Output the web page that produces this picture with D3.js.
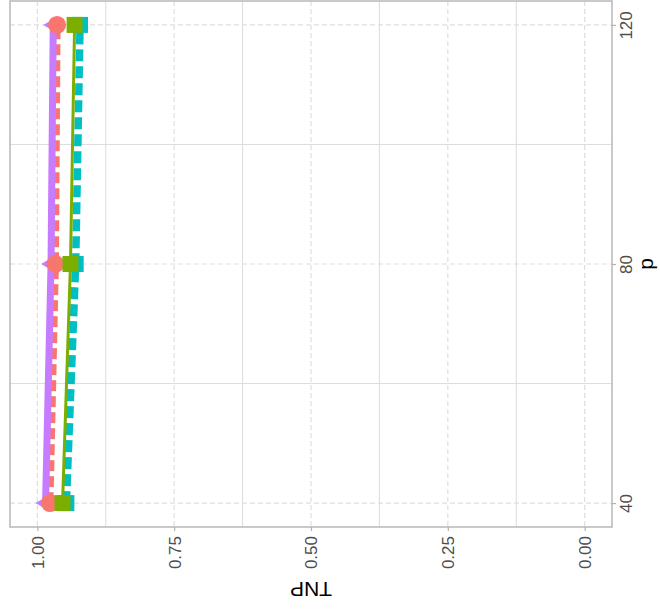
<!DOCTYPE html>
<html><head><meta charset="utf-8">
<script src="https://cdn.jsdelivr.net/npm/d3@7"></script>
<style>html,body{margin:0;padding:0;background:#fff}</style>
</head><body><svg id="chart" width="660" height="612"></svg>
<script>
// ---- data ----
const pValues = [40, 80, 120];
const seriesNames = ["method 1", "method 2", "method 3", "method 4"];
const tnpRed = [0.977, 0.967, 0.964];
const tnpGreen = [0.954, 0.9395, 0.932];
const tnpCyan = [0.947, 0.930, 0.922];
const tnpPurple = [0.985, 0.975, 0.971];
const tnpTicks = [0, 0.25, 0.5, 0.75, 1];
const tnpMinor = [0.125, 0.375, 0.625, 0.875];
const pTicks = [40, 80, 120];
const pMinor = [60, 100];

const colors = ["#F8766D", "#7CAE00", "#00BFC4", "#C77CFF"];
const seriesValues = [tnpRed, tnpGreen, tnpCyan, tnpPurple];
const dashes = ["11,5", null, "12,5", null];
const widths = [7, 3, 7.5, 7];
const shapes = [d3.symbolCircle, d3.symbolSquare, d3.symbolSquare, d3.symbolTriangle];
const sizes = [255, 256, 256, 130];

const series = seriesNames.map((n, i) => ({
  name: n, color: colors[i], dash: dashes[i], width: widths[i], shape: shapes[i], size: sizes[i],
  values: pValues.map((p, j) => ({p: p, tnp: seriesValues[i][j]}))
}));

// ---- layout ----
const svg = d3.select("#chart");
svg.append("rect").attr("width", 660).attr("height", 612).attr("fill", "#fff");
const pLeft = 10, pRight = 612, pTop = 1, pBottom = 527;
const x = d3.scaleLinear().domain([1.05, -0.05]).range([pLeft, pRight]);
const y = d3.scaleLinear().domain([36, 124]).range([pBottom, pTop]);

const grid = svg.append("g");
grid.selectAll(".vmin").data(tnpMinor).join("line")
  .attr("x1", d => x(d)).attr("x2", d => x(d)).attr("y1", pTop).attr("y2", pBottom)
  .attr("stroke", "#dcdcdc").attr("stroke-width", 1);
grid.selectAll(".hmin").data(pMinor).join("line")
  .attr("y1", d => y(d)).attr("y2", d => y(d)).attr("x1", pLeft).attr("x2", pRight)
  .attr("stroke", "#dcdcdc").attr("stroke-width", 1);
grid.selectAll(".vmaj").data(tnpTicks).join("line")
  .attr("x1", d => x(d)).attr("x2", d => x(d)).attr("y1", pTop).attr("y2", pBottom)
  .attr("stroke", "#dedede").attr("stroke-width", 1.2).attr("stroke-dasharray", "5,3");
grid.selectAll(".hmaj").data(pTicks).join("line")
  .attr("y1", d => y(d)).attr("y2", d => y(d)).attr("x1", pLeft).attr("x2", pRight)
  .attr("stroke", "#dedede").attr("stroke-width", 1.2).attr("stroke-dasharray", "5,3");

// lines
const line = d3.line().x(d => x(d.tnp)).y(d => y(d.p));
const lineOrder = [0, 3, 2, 1];
svg.append("g").selectAll("path").data(lineOrder.map(i => series[i])).join("path")
  .attr("d", d => line(d.values))
  .attr("fill", "none")
  .attr("stroke", d => d.color)
  .attr("stroke-width", d => d.width)
  .attr("stroke-dasharray", d => d.dash);

// points
const pointOrder = [3, 0, 2, 1];
const pg = svg.append("g");
pointOrder.forEach(i => {
  const s = series[i];
  pg.append("g").selectAll("path").data(s.values).join("path")
    .attr("transform", d => `translate(${x(d.tnp)},${y(d.p)}) rotate(-90)`)
    .attr("d", d3.symbol().type(s.shape).size(s.size))
    .attr("fill", s.color);
});

// panel border
svg.append("rect").attr("x", pLeft).attr("y", pTop).attr("width", pRight - pLeft).attr("height", pBottom - pTop)
  .attr("fill", "none").attr("stroke", "#b3b3b3").attr("stroke-width", 1.4);

// axes
const font = "'Liberation Sans', Arial, sans-serif";
const xAxis = svg.append("g").attr("transform", `translate(0,${pBottom})`)
  .call(d3.axisBottom(x).tickValues(tnpTicks).tickFormat(d3.format(".2f")).tickSize(4).tickSizeOuter(0));
xAxis.select(".domain").remove();
xAxis.selectAll(".tick line").attr("stroke", "#b3b3b3").attr("stroke-width", 1.2);
xAxis.selectAll(".tick text")
  .attr("x", -9).attr("y", 0).attr("dy", "0.35em")
  .attr("transform", "rotate(-90)")
  .style("text-anchor", "end")
  .attr("fill", "#4d4d4d").style("font-family", font).style("font-size", "17px");

const yAxis = svg.append("g").attr("transform", `translate(${pRight},0)`)
  .call(d3.axisRight(y).tickValues(pTicks).tickSize(4).tickSizeOuter(0));
yAxis.select(".domain").remove();
yAxis.selectAll(".tick line").attr("stroke", "#b3b3b3").attr("stroke-width", 1.2);
yAxis.selectAll(".tick text")
  .attr("x", 0).attr("y", 20).attr("dy", "0")
  .attr("transform", "rotate(-90)")
  .style("text-anchor", "middle")
  .attr("fill", "#4d4d4d").style("font-family", font).style("font-size", "17px");

// titles
svg.append("text").attr("transform", `translate(${(pLeft + pRight) / 2},582) rotate(180)`)
  .attr("text-anchor", "middle").style("font-family", font).style("font-size", "21px")
  .attr("fill", "#000").text("TNP");
svg.append("text").attr("transform", `translate(653,${(pTop + pBottom) / 2}) rotate(-90)`)
  .attr("text-anchor", "middle").style("font-family", font).style("font-size", "21px")
  .attr("fill", "#000").text("p");
</script></body></html>
